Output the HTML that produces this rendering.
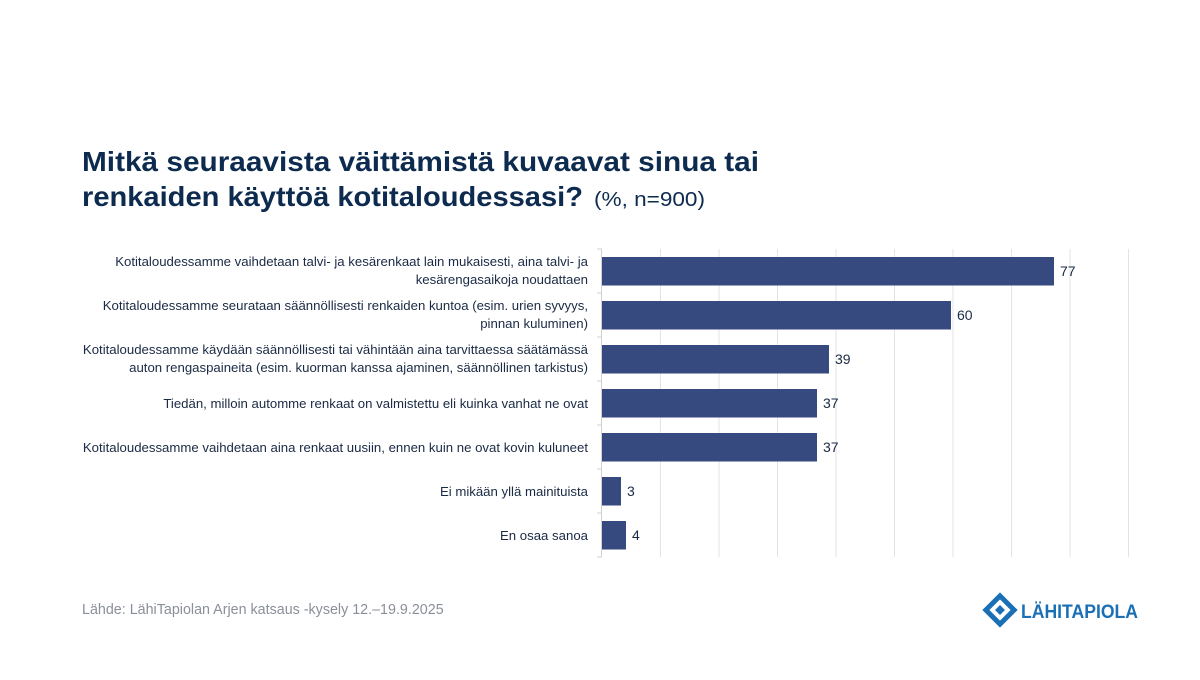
<!DOCTYPE html>
<html><head><meta charset="utf-8"><style>
body{margin:0;width:1200px;height:675px;background:#fff;font-family:"Liberation Sans",sans-serif;overflow:hidden}
</style></head><body>
<svg width="1200" height="675" xmlns="http://www.w3.org/2000/svg" font-family="Liberation Sans, sans-serif">
<text x="82" y="171" font-size="28" font-weight="bold" fill="#0d2a4f" textLength="677" lengthAdjust="spacingAndGlyphs">Mitkä seuraavista väittämistä kuvaavat sinua tai</text>
<text x="82" y="206" font-size="28" font-weight="bold" fill="#0d2a4f" textLength="501" lengthAdjust="spacingAndGlyphs">renkaiden käyttöä kotitaloudessasi?</text>
<text x="594" y="206" font-size="20" fill="#0d2a4f" textLength="111" lengthAdjust="spacingAndGlyphs">(%, n=900)</text>
<g stroke="#e3e3e3" stroke-width="1">
<line x1="660.5" y1="249" x2="660.5" y2="557"/><line x1="719" y1="249" x2="719" y2="557"/><line x1="777.5" y1="249" x2="777.5" y2="557"/><line x1="836" y1="249" x2="836" y2="557"/><line x1="894.5" y1="249" x2="894.5" y2="557"/><line x1="953" y1="249" x2="953" y2="557"/><line x1="1011.5" y1="249" x2="1011.5" y2="557"/><line x1="1070" y1="249" x2="1070" y2="557"/><line x1="1128.5" y1="249" x2="1128.5" y2="557"/>
</g>
<g stroke="#d0d0d0"><line x1="601.5" y1="249" x2="601.5" y2="557"/>
<line x1="597" y1="249" x2="602" y2="249"/><line x1="597" y1="293" x2="602" y2="293"/><line x1="597" y1="337" x2="602" y2="337"/><line x1="597" y1="381" x2="602" y2="381"/><line x1="597" y1="425" x2="602" y2="425"/><line x1="597" y1="469" x2="602" y2="469"/><line x1="597" y1="513" x2="602" y2="513"/><line x1="597" y1="557" x2="602" y2="557"/></g>
<g fill="#374a80">
<rect x="602" y="257" width="452" height="28.5"/>
<rect x="602" y="301" width="349" height="28.5"/>
<rect x="602" y="345" width="227" height="28.5"/>
<rect x="602" y="389" width="215" height="28.5"/>
<rect x="602" y="433" width="215" height="28.5"/>
<rect x="602" y="477" width="19" height="28.5"/>
<rect x="602" y="521" width="24" height="28.5"/>
</g>
<g font-size="14" fill="#1a2a44">
<text x="1060" y="276">77</text><text x="957" y="320">60</text><text x="835" y="364">39</text><text x="823" y="408">37</text><text x="823" y="452">37</text><text x="627" y="496">3</text><text x="632" y="540">4</text>
</g>
<g font-size="13.2" fill="#1a2a44" text-anchor="end">
<text x="588" y="266">Kotitaloudessamme vaihdetaan talvi- ja kesärenkaat lain mukaisesti, aina talvi- ja</text>
<text x="588" y="284">kesärengasaikoja noudattaen</text>
<text x="588" y="310">Kotitaloudessamme seurataan säännöllisesti renkaiden kuntoa (esim. urien syvyys,</text>
<text x="588" y="328">pinnan kuluminen)</text>
<text x="588" y="354">Kotitaloudessamme käydään säännöllisesti tai vähintään aina tarvittaessa säätämässä</text>
<text x="588" y="372">auton rengaspaineita (esim. kuorman kanssa ajaminen, säännöllinen tarkistus)</text>
<text x="588" y="408">Tiedän, milloin automme renkaat on valmistettu eli kuinka vanhat ne ovat</text>
<text x="588" y="452">Kotitaloudessamme vaihdetaan aina renkaat uusiin, ennen kuin ne ovat kovin kuluneet</text>
<text x="588" y="496">Ei mikään yllä mainituista</text>
<text x="588" y="540">En osaa sanoa</text>
</g>
<text x="82" y="614" font-size="14.3" fill="#8a8f99">Lähde: LähiTapiolan Arjen katsaus -kysely 12.–19.9.2025</text>
<g transform="translate(1000,610)">
<rect x="-10" y="-10" width="20" height="20" transform="rotate(45)" fill="none" stroke="#1a6fb5" stroke-width="5"/>
<rect x="-3.5" y="-3.5" width="7" height="7" transform="rotate(45)" fill="#1a6fb5"/>
</g>
<text x="1021" y="618" font-size="19" font-weight="bold" fill="#1a6fb5" textLength="117" lengthAdjust="spacingAndGlyphs">LÄHITAPIOLA</text>
</svg>
</body></html>
